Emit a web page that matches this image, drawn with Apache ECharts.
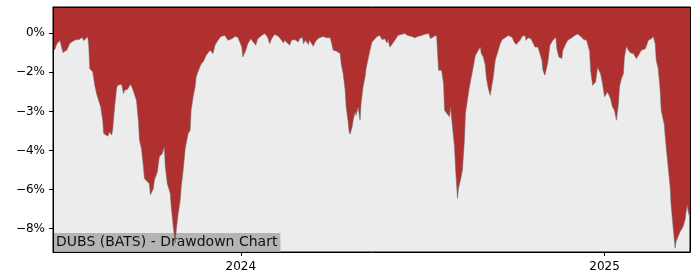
<!DOCTYPE html>
<html>
<head>
<meta charset="utf-8">
<script src="https://cdn.jsdelivr.net/npm/echarts@6/dist/echarts.min.js"></script>
<style>html,body{margin:0;padding:0;background:#fff}#c{width:700px;height:280px}</style>
</head>
<body>
<div id="c"></div>
<script>
const chartTitle = 'DUBS (BATS) - Drawdown Chart';
const dates = [
'2023-06-26','2023-06-28','2023-06-30','2023-07-03','2023-07-06','2023-07-10','2023-07-13','2023-07-18','2023-07-23','2023-07-25',
'2023-07-27','2023-07-28','2023-07-31','2023-08-01','2023-08-02','2023-08-05','2023-08-07','2023-08-09','2023-08-11','2023-08-13',
'2023-08-15','2023-08-16','2023-08-18','2023-08-20','2023-08-22','2023-08-24','2023-08-25','2023-08-27','2023-08-29','2023-08-30',
'2023-09-03','2023-09-05','2023-09-06','2023-09-09','2023-09-11','2023-09-12','2023-09-14','2023-09-16','2023-09-18','2023-09-20',
'2023-09-21','2023-09-23','2023-09-25','2023-09-26','2023-09-29','2023-10-01','2023-10-02','2023-10-04','2023-10-05','2023-10-06',
'2023-10-09','2023-10-11','2023-10-12','2023-10-14','2023-10-16','2023-10-17','2023-10-19','2023-10-22','2023-10-23','2023-10-25',
'2023-10-27','2023-10-28','2023-10-30','2023-11-01','2023-11-02','2023-11-04','2023-11-06','2023-11-07','2023-11-09','2023-11-11',
'2023-11-12','2023-11-14','2023-11-16','2023-11-17','2023-11-20','2023-11-22','2023-11-25','2023-11-27','2023-11-29','2023-12-01',
'2023-12-02','2023-12-04','2023-12-06','2023-12-09','2023-12-12','2023-12-16','2023-12-17','2023-12-19','2023-12-23','2023-12-26',
'2023-12-29','2023-12-31','2024-01-02','2024-01-03','2024-01-06','2024-01-08','2024-01-11','2024-01-13','2024-01-16','2024-01-18',
'2024-01-22','2024-01-25','2024-01-27','2024-01-28','2024-01-30','2024-02-01','2024-02-04','2024-02-08','2024-02-11','2024-02-13',
'2024-02-14','2024-02-17','2024-02-19','2024-02-21','2024-02-24','2024-02-26','2024-02-28','2024-02-29','2024-03-03','2024-03-04',
'2024-03-06','2024-03-09','2024-03-10','2024-03-12','2024-03-14','2024-03-15','2024-03-17','2024-03-20','2024-03-24','2024-03-27',
'2024-03-29','2024-03-31','2024-04-01','2024-04-03','2024-04-06','2024-04-08','2024-04-10','2024-04-11','2024-04-13','2024-04-15',
'2024-04-16','2024-04-18','2024-04-19','2024-04-20','2024-04-22','2024-04-23','2024-04-25','2024-04-26','2024-04-28','2024-04-30',
'2024-05-01','2024-05-03','2024-05-05','2024-05-06','2024-05-08','2024-05-10','2024-05-12','2024-05-15','2024-05-17','2024-05-20',
'2024-05-22','2024-05-23','2024-05-25','2024-05-27','2024-05-28','2024-05-30','2024-06-01','2024-06-04','2024-06-07','2024-06-11',
'2024-06-14','2024-06-17','2024-06-21','2024-06-24','2024-06-27','2024-07-01','2024-07-04','2024-07-08','2024-07-10','2024-07-13',
'2024-07-16','2024-07-18','2024-07-21','2024-07-23','2024-07-24','2024-07-26','2024-07-28','2024-07-29','2024-07-30','2024-08-01',
'2024-08-03','2024-08-04','2024-08-06','2024-08-07','2024-08-09','2024-08-11','2024-08-13','2024-08-14','2024-08-16','2024-08-18',
'2024-08-21','2024-08-24','2024-08-27','2024-08-29','2024-08-30','2024-09-01','2024-09-03','2024-09-04','2024-09-06','2024-09-08',
'2024-09-09','2024-09-11','2024-09-13','2024-09-15','2024-09-18','2024-09-20','2024-09-23','2024-09-26','2024-09-28','2024-09-30',
'2024-10-02','2024-10-04','2024-10-06','2024-10-08','2024-10-10','2024-10-13','2024-10-14','2024-10-16','2024-10-19','2024-10-21',
'2024-10-23','2024-10-25','2024-10-26','2024-10-28','2024-10-30','2024-10-31','2024-11-02','2024-11-04','2024-11-05','2024-11-07',
'2024-11-10','2024-11-11','2024-11-13','2024-11-14','2024-11-16','2024-11-19','2024-11-20','2024-11-23','2024-11-25','2024-11-29',
'2024-12-02','2024-12-05','2024-12-07','2024-12-09','2024-12-11','2024-12-12','2024-12-14','2024-12-16','2024-12-17','2024-12-18',
'2024-12-20','2024-12-22','2024-12-23','2024-12-25','2024-12-27','2024-12-28','2024-12-30','2025-01-01','2025-01-02','2025-01-04',
'2025-01-06','2025-01-07','2025-01-09','2025-01-11','2025-01-13','2025-01-15','2025-01-16','2025-01-18','2025-01-20','2025-01-21',
'2025-01-23','2025-01-25','2025-01-27','2025-01-28','2025-01-30','2025-02-01','2025-02-02','2025-02-04','2025-02-06','2025-02-07',
'2025-02-09','2025-02-11','2025-02-12','2025-02-14','2025-02-16','2025-02-17','2025-02-19','2025-02-21','2025-02-22','2025-02-24',
'2025-02-26','2025-02-27','2025-03-02','2025-03-04','2025-03-06','2025-03-08','2025-03-09','2025-03-11','2025-03-13','2025-03-14',
'2025-03-16','2025-03-18','2025-03-19','2025-03-21','2025-03-23','2025-03-25','2025-03-26','2025-03-27','2025-03-28'
];
const drawdown = [
-0.70,-0.60,-0.40,-0.28,-0.74,-0.64,-0.38,-0.26,-0.23,-0.15,
-0.28,-0.22,-0.13,-0.50,-1.36,-1.48,-2.00,-2.34,-2.38,-2.83,
-3.34,-3.85,-3.91,-3.95,-3.79,-3.91,-3.72,-2.83,-2.12,-2.00,
-1.96,-2.32,-2.19,-2.15,-2.12,-1.96,-2.12,-2.19,-2.57,-3.40,
-4.10,-4.43,-5.13,-5.58,-5.70,-5.78,-6.21,-6.28,-5.96,-5.64,
-5.32,-4.74,-4.80,-4.62,-4.36,-5.13,-5.77,-6.15,-6.66,-7.43,
-8.05,-7.56,-6.92,-6.41,-5.90,-5.26,-4.43,-4.23,-3.85,-3.72,
-2.96,-2.44,-2.06,-1.68,-1.36,-1.19,-1.04,-0.85,-0.78,-0.65,
-0.72,-0.78,-0.46,-0.27,-0.12,-0.08,-0.12,-0.27,-0.21,-0.12,
-0.15,-0.21,-0.53,-0.91,-0.65,-0.40,-0.21,-0.27,-0.46,-0.21,
-0.08,-0.01,-0.01,-0.15,-0.40,-0.21,-0.04,-0.12,-0.27,-0.37,
-0.27,-0.37,-0.46,-0.27,-0.24,-0.21,-0.33,-0.21,-0.15,-0.40,
-0.27,-0.43,-0.27,-0.33,-0.50,-0.40,-0.27,-0.17,-0.12,-0.17,
-0.12,-0.17,-0.33,-0.65,-0.68,-0.70,-0.78,-1.17,-1.55,-2.19,
-2.83,-3.40,-3.79,-3.87,-3.60,-3.34,-3.02,-3.15,-2.83,-3.34,
-2.70,-2.06,-1.68,-1.36,-1.00,-0.65,-0.33,-0.21,-0.12,-0.08,
-0.24,-0.27,-0.21,-0.37,-0.24,-0.53,-0.43,-0.27,-0.08,-0.04,
-0.01,-0.08,-0.12,-0.17,-0.12,-0.08,-0.04,-0.01,-0.21,-0.12,
-0.08,-1.42,-1.42,-1.93,-2.96,-3.06,-3.06,-3.21,-2.83,-3.60,
-4.36,-5.13,-6.34,-5.96,-5.64,-5.26,-4.10,-3.08,-2.57,-2.06,
-1.48,-0.85,-0.65,-0.53,-0.78,-0.91,-1.23,-1.68,-2.12,-2.38,
-2.42,-1.68,-1.04,-0.78,-0.40,-0.24,-0.17,-0.08,-0.04,-0.15,
-0.33,-0.43,-0.50,-0.27,-0.12,-0.08,-0.27,-0.17,-0.21,-0.15,
-0.53,-0.56,-0.53,-0.59,-1.04,-1.42,-1.61,-1.68,-1.10,-0.46,
-0.27,-0.21,-0.15,-0.59,-0.91,-0.97,-0.65,-0.40,-0.27,-0.17,
-0.08,-0.03,-0.05,-0.15,-0.24,-0.31,-0.27,-0.24,-0.70,-1.42,
-2.00,-1.93,-1.87,-1.30,-1.36,-1.55,-1.93,-2.44,-2.50,-2.25,
-2.19,-2.50,-2.83,-2.96,-3.34,-2.70,-2.06,-1.74,-1.55,-0.91,
-0.50,-0.65,-0.75,-0.68,-0.78,-0.72,-0.97,-0.85,-0.78,-0.65,
-0.72,-0.59,-0.50,-0.27,-0.24,-0.21,-0.12,-0.40,-1.04,-1.36,
-2.19,-2.96,-3.47,-4.36,-5.13,-5.90,-6.60,-7.43,-8.25,-8.00,
-7.81,-7.62,-7.55,-7.43,-7.17,-6.60,-6.53,-6.98,-6.90
];
const yTickValues = [0, -1.5, -3, -4.5, -6, -7.5];
const yTickLabels = ['0%', '\u22122%', '\u22123%', '\u22124%', '\u22126%', '\u22128%'];
const xTickDates = ['2024-01-01', '2025-01-01'];
const xTickLabels = ['2024', '2025'];

const toTs = d => Date.parse(d + 'T00:00:00Z');
const xTickValues = xTickDates.map(toTs);
const seriesData = dates.map((d, i) => [toTs(d), drawdown[i]]);
const xMin = toTs(dates[0]);
const xMax = toTs(dates[dates.length - 1]);
const yMin = -8.40, yMax = 1.01;

const chart = echarts.init(document.getElementById('c'), null, {renderer: 'canvas'});
const font = 'DejaVu Sans';
const frameAxis = {
  type: 'value', scale: true, z: 5,
  splitLine: {show: false}, axisTick: {show: false}, axisLabel: {show: false},
  axisLine: {show: true, onZero: false, lineStyle: {color: '#000', width: 1}}
};
chart.setOption({
  animation: false,
  backgroundColor: '#ffffff',
  title: {
    text: chartTitle,
    left: 53, top: 233,
    padding: [2, 3, 2, 3],
    backgroundColor: 'rgba(170,170,170,0.85)',
    textStyle: {fontFamily: font, fontSize: 14, fontWeight: 'normal', color: '#111', lineHeight: 15},
    z: 1
  },
  grid: {
    left: 53, right: 10, top: 7, bottom: 28,
    show: true, backgroundColor: '#ececec', borderColor: '#000', borderWidth: 1
  },
  xAxis: [{
    type: 'value',
    min: xMin, max: xMax,
    scale: true, z: 5,
    splitLine: {show: false},
    axisLine: {show: true, onZero: false, lineStyle: {color: '#000', width: 1}},
    axisTick: {show: true, customValues: xTickValues, length: 4, lineStyle: {color: '#000'}},
    axisLabel: {
      customValues: xTickValues, margin: 9,
      fontFamily: font, fontSize: 12, color: '#000',
      formatter: v => { const i = xTickValues.indexOf(v); return i >= 0 ? xTickLabels[i] : ''; }
    }
  }, Object.assign({}, frameAxis, {position: 'top', min: xMin, max: xMax})],
  yAxis: [{
    type: 'value',
    min: yMin, max: yMax, z: 5,
    splitLine: {show: false},
    axisLine: {show: true, onZero: false, lineStyle: {color: '#000', width: 1}},
    axisTick: {show: true, customValues: yTickValues, length: 4, lineStyle: {color: '#000'}},
    axisLabel: {
      customValues: yTickValues, margin: 8,
      fontFamily: font, fontSize: 12, color: '#000',
      formatter: v => { const i = yTickValues.indexOf(v); return i >= 0 ? yTickLabels[i] : ''; }
    }
  }, Object.assign({}, frameAxis, {position: 'right', min: yMin, max: yMax})],
  series: [{
    type: 'line',
    data: seriesData,
    showSymbol: false,
    smooth: false,
    lineStyle: {color: 'rgba(110,110,110,0.7)', width: 0.8},
    areaStyle: {origin: 'end', color: '#b03030', opacity: 1},
    z: 2
  }]
});
</script>
</body>
</html>
